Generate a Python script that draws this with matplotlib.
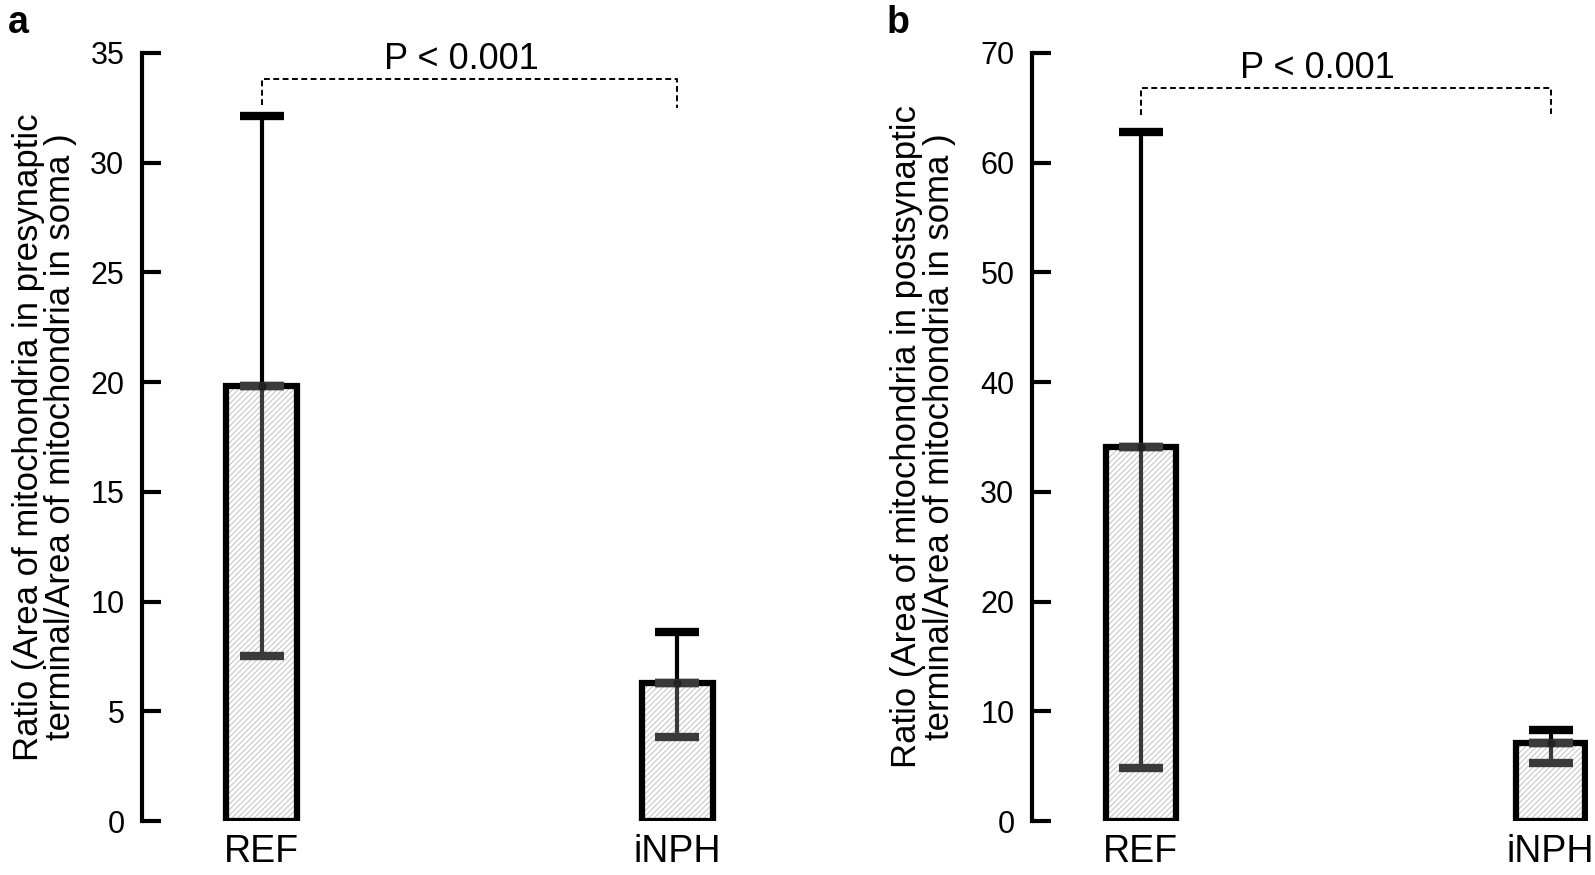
import matplotlib
matplotlib.use("Agg")
import matplotlib.pyplot as plt

plt.rcParams['font.family'] = ['Liberation Sans', 'DejaVu Sans']
plt.rcParams['hatch.linewidth'] = 0.8

groups = ["REF", "iNPH"]

# panel a: presynaptic
mean_a = [19.8, 6.3]
upper_a = [32.1, 8.6]
lower_a = [7.5, 3.85]

# panel b: postsynaptic
mean_b = [34.1, 7.1]
upper_b = [62.8, 8.3]
lower_b = [4.8, 5.3]

ylabels = ["Ratio (Area of mitochondria in presynaptic\nterminal/Area of mitochondria in soma )",
           "Ratio (Area of mitochondria in postsynaptic\nterminal/Area of mitochondria in soma )"]
p_text = "P < 0.001"


def draw_panel(ax, means, uppers, lowers, ymax, ystep, ylabel, brk, ptx, xlim, labx):
    x = list(range(len(groups)))
    # error bars: upper part black, lower part grey (seen through bar)
    for xi, m, u, l in zip(x, means, uppers, lowers):
        ax.errorbar([xi], [m], yerr=[[0], [u - m]], fmt='none', ecolor='black',
                    elinewidth=3, capsize=16, capthick=6, zorder=2)
        ax.errorbar([xi], [m], yerr=[[m - l], [0]], fmt='none', ecolor='#3a3a3a',
                    elinewidth=3, capsize=16, capthick=6, zorder=4)
        ax.plot([xi], [m], 'o', color='#222222', ms=5, zorder=5)
    ax.bar(x, means, width=0.17, color='white', edgecolor='#c8c8c8', hatch='//////',
           linewidth=0, zorder=1)
    ax.bar(x, means, width=0.17, color='none', edgecolor='black', linewidth=4.5, zorder=3)

    # significance bracket
    y_top, y_l, y_r = brk
    ax.plot([0, 0, 1, 1], [y_l, y_top, y_top, y_r], ls=(0, (3, 1.8)), color='black', lw=1.4, zorder=2)
    ax.text(ptx, y_top + ymax * 0.003, p_text, ha='center', va='bottom', fontsize=26)

    ax.set_ylim(0, ymax)
    ax.set_xlim(*xlim)
    ax.set_yticks(range(0, ymax + 1, ystep))
    ax.set_xticks(x)
    ax.set_xticklabels(groups, fontsize=27)
    for s in ['top', 'right', 'bottom']:
        ax.spines[s].set_visible(False)
    ax.spines['left'].set_linewidth(3)
    ax.tick_params(axis='y', direction='in', length=14, width=3, labelsize=22, pad=13)
    ax.tick_params(axis='x', length=0, pad=9)
    ax.set_ylabel(ylabel, fontsize=25, linespacing=0.98)
    ax.yaxis.set_label_coords(labx, 0.5)


fig = plt.figure(figsize=(15.95, 8.75), dpi=100)
ax1 = fig.add_axes([0.0893, 0.0617, 0.3745, 0.878])
ax2 = fig.add_axes([0.6473, 0.0617, 0.3480, 0.878])

draw_panel(ax1, mean_a, upper_a, lower_a, 35, 5, ylabels[0], (33.8, 32.6, 32.5), 0.48,
           (-0.287, 1.15), -0.109)
draw_panel(ax2, mean_b, upper_b, lower_b, 70, 10, ylabels[1], (66.8, 64.3, 64.4), 0.43,
           (-0.264, 1.09), -0.138)

fig.text(0.005, 0.962, 'a', fontsize=27, fontweight='bold')
fig.text(0.556, 0.962, 'b', fontsize=27, fontweight='bold')

fig.savefig('out.png', dpi=100)
